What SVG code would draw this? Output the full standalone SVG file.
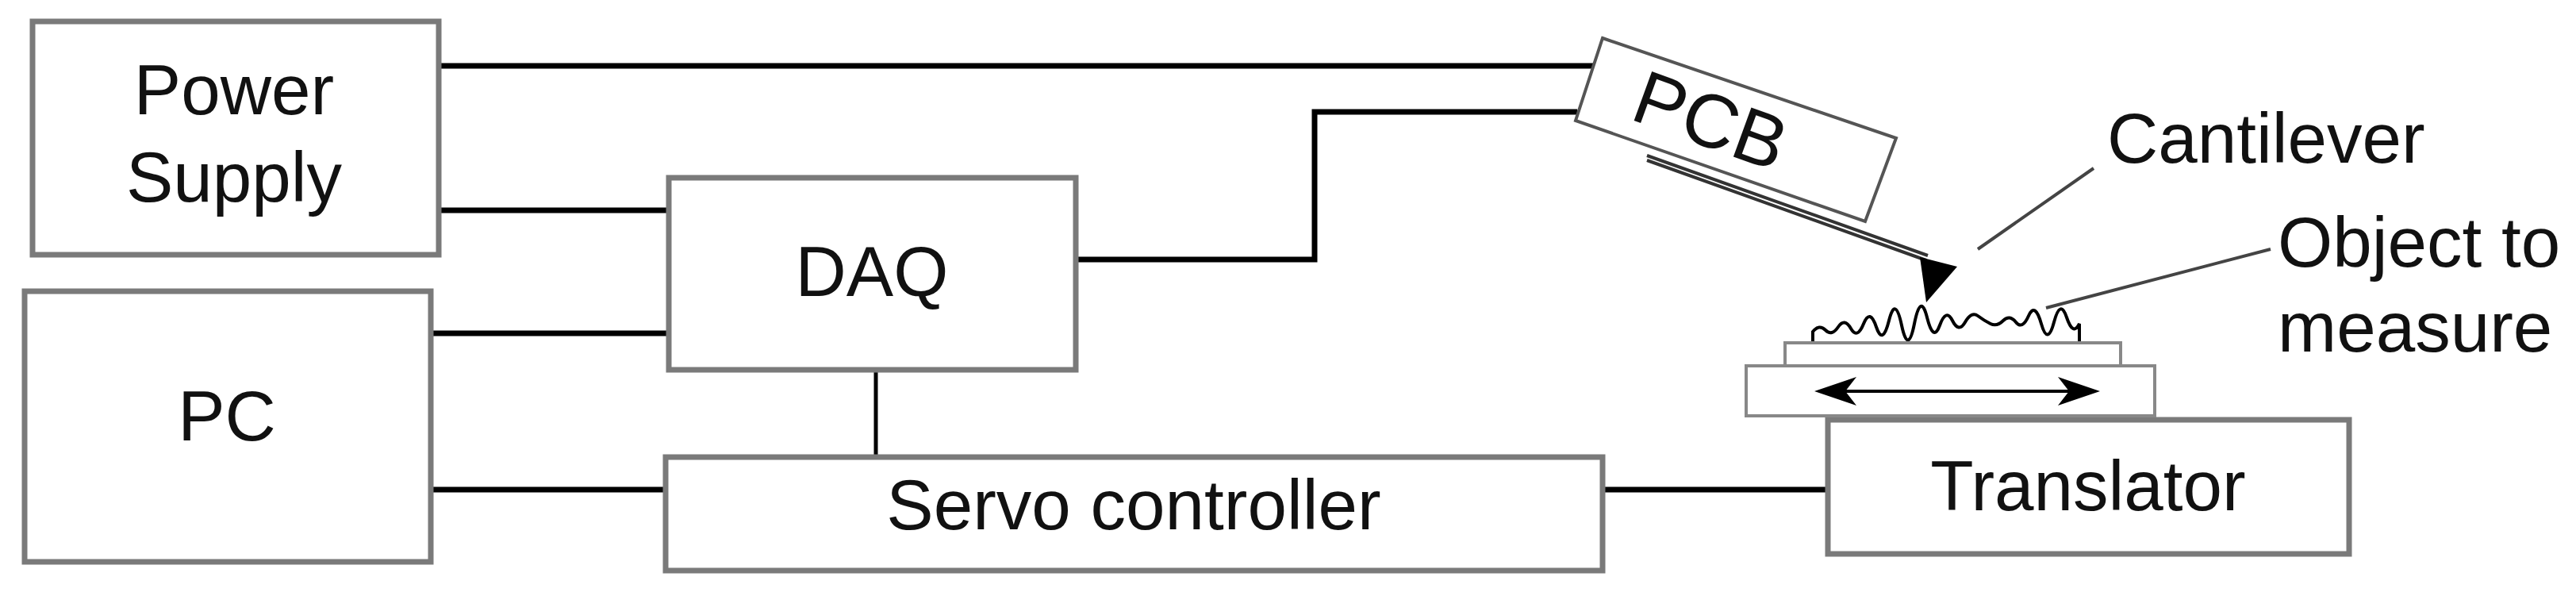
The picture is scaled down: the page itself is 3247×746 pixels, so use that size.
<svg xmlns="http://www.w3.org/2000/svg" width="3247" height="746" viewBox="0 0 3247 746">
<style>
.box{fill:#fff;stroke:#7a7a7a;stroke-width:7}
.ln{fill:none;stroke:#000;stroke-width:7}
.thin{fill:none;stroke:#444;stroke-width:4}
text{font-family:"Liberation Sans",Arial,sans-serif;font-size:89px;fill:#111;text-anchor:middle}
</style>
<rect width="3247" height="746" fill="#fff"/>
<g id="connectors">
<path class="ln" d="M553 83H2010"/>
<path class="ln" d="M553 265H843"/>
<path class="ln" d="M543 420H843"/>
<path class="ln" d="M543 617H839"/>
<path class="ln" d="M1104 466V576" style="stroke-width:5"/>
<path class="ln" d="M1356 327H1657V141H1988"/>
<path class="ln" d="M2020 617H2304"/>
</g>
<g id="power-supply"><rect class="box" x="41" y="27" width="512" height="294"/><text x="295" y="144">Power</text><text x="295" y="254">Supply</text></g>
<g id="pc"><rect class="box" x="31" y="367" width="512" height="341"/><text x="286" y="555">PC</text></g>
<g id="daq"><rect class="box" x="843" y="224" width="513" height="242"/><text x="1099" y="373">DAQ</text></g>
<g id="servo"><rect class="box" x="839" y="576" width="1181" height="143"/><text x="1429" y="667">Servo controller</text></g>
<g id="translator"><rect class="box" x="2304" y="529" width="657" height="169"/><text x="2632" y="643">Translator</text></g>
<g id="pcb"><polygon points="2020,48 2390,174 2351,279 1986,152" fill="#fff" stroke="#555" stroke-width="4"/><text transform="translate(2145,183) rotate(20)" x="0" y="0" style="font-size:96px">PCB</text></g>
<g id="cantilever">
<path d="M2076 196L2430 322M2076 202L2428 328" stroke="#333" stroke-width="4" fill="none"/>
<polygon points="2420,324 2467,336 2428,381" fill="#000"/>
<path class="thin" d="M2493 314L2639 212"/>
<text x="2656" y="205" style="text-anchor:start">Cantilever</text>
</g>
<g id="object">
<path d="M2285 432V418q8-10 16-2t16-4t16 2t16-6t16 4t16-8t16 6t16 -2t16-8t16 10t16-6t16 2t16-8t16 10t16-4t16 2t16-8t16 10t16-2t16-6t16 8V432Z" fill="#fff" stroke="#000" stroke-width="4"/>
<path class="thin" d="M2579 388L2862 314"/>
<text x="2871" y="336" style="text-anchor:start">Object to</text>
<text x="2871" y="443" style="text-anchor:start">measure</text>
</g>
<g id="stage">
<rect x="2250" y="432" width="423" height="29" fill="#fff" stroke="#888" stroke-width="4"/>
<rect x="2201" y="461" width="515" height="63" fill="#fff" stroke="#888" stroke-width="4"/>
<path d="M2320 493H2614" stroke="#000" stroke-width="4"/>
<polygon points="2287,493 2340,475 2326,493 2340,511" fill="#000"/>
<polygon points="2647,493 2594,475 2608,493 2594,511" fill="#000"/>
</g>
</svg>
